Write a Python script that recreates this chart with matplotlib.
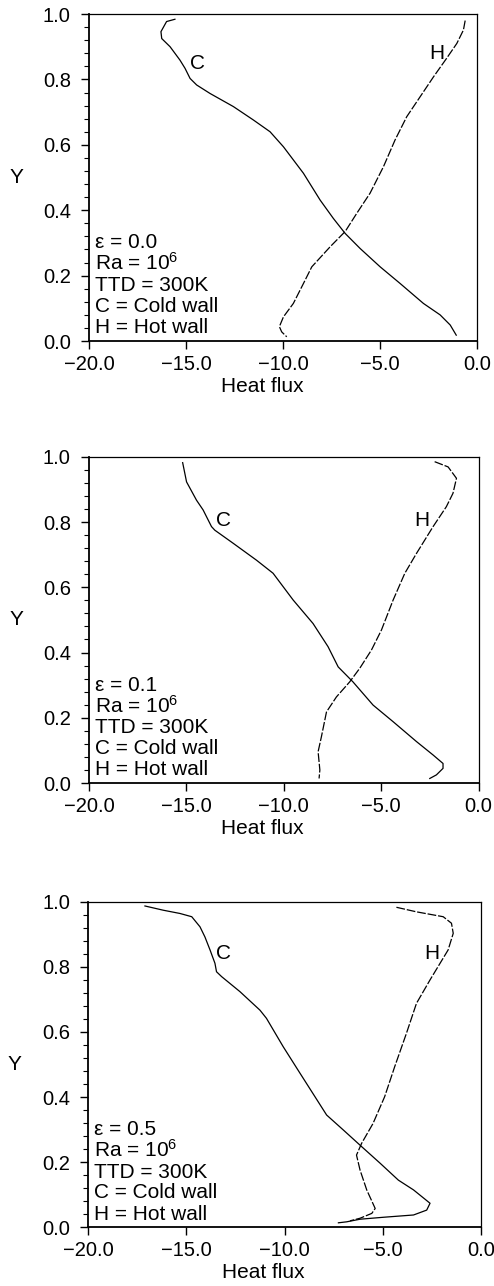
import matplotlib
matplotlib.use('Agg')
from matplotlib import pyplot as plt
from matplotlib.ticker import MultipleLocator

plt.rcParams['font.family'] = ['Liberation Sans', 'DejaVu Sans']
plt.rcParams['mathtext.fontset'] = 'custom'
plt.rcParams['mathtext.rm'] = 'Liberation Sans'
plt.rcParams['mathtext.it'] = 'Liberation Sans'

cold_00_x = [-15.57, -16.0, -16.29, -16.25, -15.82, -15.31, -15.05, -14.79, -14.45, -13.76,
             -12.56, -11.53, -10.67, -9.98, -8.95, -8.09, -7.41, -6.80, -6.03, -5.0,
             -3.97, -2.77, -1.91, -1.39, -1.08]
cold_00_y = [0.984, 0.977, 0.946, 0.925, 0.900, 0.859, 0.834, 0.803, 0.783, 0.757,
             0.717, 0.676, 0.640, 0.594, 0.513, 0.431, 0.375, 0.329, 0.283, 0.227,
             0.176, 0.115, 0.080, 0.049, 0.018]
hot_00_x = [-0.62, -0.71, -1.05, -1.57, -2.25, -2.94, -3.63, -4.23, -4.83, -5.52,
            -6.21, -6.80, -7.58, -8.52, -8.95, -9.47, -9.98, -10.19, -10.07, -9.81]
hot_00_y = [0.980, 0.951, 0.910, 0.865, 0.808, 0.747, 0.686, 0.615, 0.533, 0.452,
            0.390, 0.335, 0.288, 0.227, 0.176, 0.115, 0.074, 0.044, 0.028, 0.013]

# epsilon = 0.1
cold_01_x = [-15.19, -14.99, -14.48, -14.14, -13.71, -13.54, -12.60, -11.40, -10.55, -9.52,
             -8.50, -7.73, -7.21, -6.45, -5.42, -4.39, -3.19, -2.34, -1.83, -1.83,
             -2.17, -2.51]
cold_01_y = [0.982, 0.923, 0.867, 0.837, 0.786, 0.775, 0.735, 0.683, 0.643, 0.561,
             0.489, 0.418, 0.356, 0.310, 0.239, 0.188, 0.127, 0.086, 0.060, 0.045,
             0.025, 0.014]
hot_01_x = [-2.26, -1.57, -1.14, -1.32, -1.66, -2.34, -3.19, -3.79, -4.39, -4.99,
            -5.50, -6.10, -6.62, -7.30, -7.81, -8.07, -8.24, -8.15, -8.19]
hot_01_y = [0.985, 0.969, 0.934, 0.888, 0.847, 0.786, 0.704, 0.643, 0.561, 0.469,
            0.408, 0.352, 0.310, 0.264, 0.218, 0.142, 0.096, 0.040, 0.014]

# epsilon = 0.5
cold_05_x = [-17.10, -16.17, -15.32, -14.72, -14.30, -14.05, -13.79, -13.54, -13.46, -13.20,
             -12.27, -11.25, -10.92, -10.07, -9.21, -8.45, -7.86, -7.01, -6.08, -5.14,
             -4.21, -3.44, -2.60, -2.77, -3.44, -4.97, -6.16, -6.84, -7.26]
cold_05_y = [0.987, 0.974, 0.964, 0.954, 0.923, 0.892, 0.852, 0.811, 0.785, 0.770,
             0.724, 0.667, 0.642, 0.555, 0.473, 0.401, 0.345, 0.299, 0.248, 0.197,
             0.145, 0.115, 0.074, 0.053, 0.038, 0.031, 0.025, 0.017, 0.014]
hot_05_x = [-4.31, -3.29, -1.93, -1.51, -1.42, -1.68, -2.09, -2.60, -3.29, -3.80,
            -4.40, -4.91, -5.50, -6.08, -6.34, -6.16, -5.82, -5.39, -5.56, -6.16, -6.67]
hot_05_y = [0.983, 0.969, 0.954, 0.934, 0.903, 0.852, 0.811, 0.760, 0.688, 0.596,
            0.493, 0.401, 0.319, 0.258, 0.222, 0.176, 0.115, 0.058, 0.043, 0.028, 0.020]

eps_labels = ['0.0', '0.1', '0.5']
c_label_pos = [(-14.4, 0.85), (-13.1, 0.806), (-13.1, 0.842)]
h_label_pos = [(-2.1, 0.88), (-2.9, 0.806), (-2.5, 0.842)]
x_ticks = [-20.0, -15.0, -10.0, -5.0, 0.0]
y_ticks = [0.0, 0.2, 0.4, 0.6, 0.8, 1.0]

panels = [
    (cold_00_x, cold_00_y, hot_00_x, hot_00_y),
    (cold_01_x, cold_01_y, hot_01_x, hot_01_y),
    (cold_05_x, cold_05_y, hot_05_x, hot_05_y),
]
axes_rects = [
    [0.180, 0.7348, 0.786, 0.2543],
    [0.180, 0.3911, 0.789, 0.2537],
    [0.178, 0.0456, 0.796, 0.2532],
]

fig = plt.figure(figsize=(4.94, 12.86), dpi=100)

for i, (cx, cy, hx, hy) in enumerate(panels):
    ax = fig.add_axes(axes_rects[i])
    ax.plot(cx, cy, color='black', lw=0.9)
    ax.plot(hx, hy, color='black', lw=0.9, linestyle=(0, (7, 1.5)))

    ax.set_xlim(-20, 0)
    ax.set_ylim(0, 1)
    ax.set_xticks(x_ticks)
    ax.set_xticklabels(['\u221220.0', '\u221215.0', '\u221210.0', '\u22125.0', '0.0'])
    ax.set_yticks(y_ticks)
    ax.set_yticklabels(['%.1f' % v for v in y_ticks])
    ax.yaxis.set_minor_locator(MultipleLocator(0.04))
    ax.tick_params(axis='both', which='major', direction='out', length=6, width=1.0,
                   labelsize=14.5)
    ax.tick_params(axis='x', which='major', pad=4)
    ax.tick_params(axis='y', which='major', pad=7)
    ax.tick_params(axis='y', which='minor', direction='out', length=3.5, width=0.8)
    for side in ['left', 'bottom']:
        ax.spines[side].set_linewidth(1.3)
    for side in ['top', 'right']:
        ax.spines[side].set_linewidth(0.9)

    ax.set_xlabel('Heat flux', fontsize=15, va='center')
    ax.xaxis.set_label_coords(0.446, -0.14)
    ax.set_ylabel('Y', fontsize=15, rotation=0, va='center')
    ax.yaxis.set_label_coords(-0.186, 0.5)

    ax.text(c_label_pos[i][0], c_label_pos[i][1], 'C', fontsize=15, ha='center', va='center')
    ax.text(h_label_pos[i][0], h_label_pos[i][1], 'H', fontsize=15, ha='center', va='center')

    info = ['\u03b5 = ' + eps_labels[i], 'Ra = 10$^6$', 'TTD = 300K',
            'C = Cold wall', 'H = Hot wall']
    info_y = [0.300, 0.238, 0.170, 0.106, 0.041]
    for line, yy in zip(info, info_y):
        ax.text(-19.7, yy, line, fontsize=15, ha='left', va='center')

fig.savefig('out.png', dpi=100)
